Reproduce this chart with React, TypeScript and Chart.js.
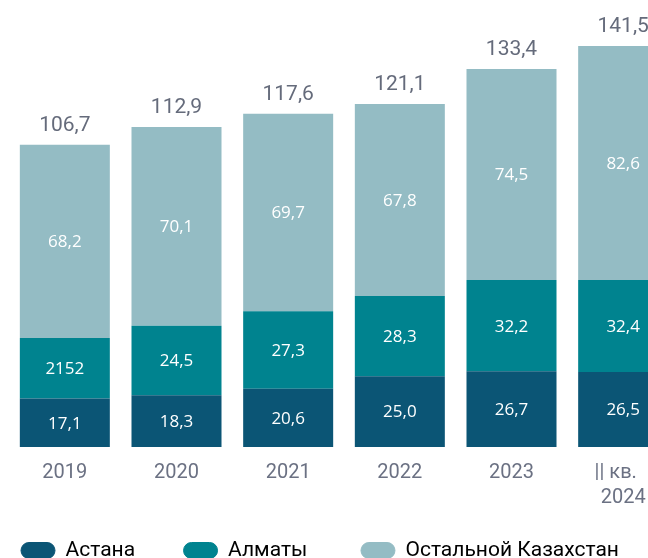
import React, { useEffect, useRef } from "react";
import { Chart, registerables } from "chart.js";

Chart.register(...registerables);

const categories: (string | string[])[] = ["2019", "2020", "2021", "2022", "2023", ["|| кв.   ", "2024"]];
const seriesNames = ["Астана", "Алматы", "Остальной Казахстан"];
const astana = [17.1, 18.3, 20.6, 25.0, 26.7, 26.5];
const almaty = [21.4, 24.5, 27.3, 28.3, 32.2, 32.4];
const rest = [68.2, 70.1, 69.7, 67.8, 74.5, 82.6];
const totals = [106.7, 112.9, 117.6, 121.1, 133.4, 141.5];
const almatyLabels = ["2152", "24,5", "27,3", "28,3", "32,2", "32,4"];
const colors = ["#0b5575", "#00838f", "#94bcc4"];
const legendPad = ["       ", "        ", ""];

const fmt = (v: number) => v.toFixed(1).replace(".", ",");
const segmentLabels = [astana.map(fmt), almatyLabels, rest.map(fmt)];

const labelPlugin = {
  id: "valueLabels",
  afterDatasetsDraw(chart: any) {
    const ctx = chart.ctx;
    ctx.save();
    ctx.textAlign = "center";
    ctx.textBaseline = "middle";
    ctx.fillStyle = "#ffffff";
    ctx.font = "17px 'Open Sans'";
    chart.data.datasets.forEach((_ds: any, di: number) => {
      const meta = chart.getDatasetMeta(di);
      meta.data.forEach((el: any, i: number) => {
        const { x, y, base } = el.getProps(["x", "y", "base"], true);
        ctx.fillText(segmentLabels[di][i], x, (y + base) / 2 + 1);
      });
    });
    const top = chart.getDatasetMeta(chart.data.datasets.length - 1);
    ctx.fillStyle = "#656b7b";
    ctx.font = "21px Roboto";
    top.data.forEach((el: any, i: number) => {
      const { x, y } = el.getProps(["x", "y"], true);
      ctx.fillText(fmt(totals[i]), x, y - 19);
    });
    ctx.restore();
  },
};

export default function App() {
  const ref = useRef<HTMLCanvasElement>(null);
  useEffect(() => {
    const chart = new Chart(ref.current as HTMLCanvasElement, {
      type: "bar",
      data: {
        labels: categories,
        datasets: [astana, almaty, rest].map((d, i) => ({
          label: seriesNames[i],
          data: d,
          backgroundColor: colors[i],
          borderWidth: 0,
          barPercentage: 0.806,
          categoryPercentage: 1,
        })),
      },
      options: {
        animation: false,
        responsive: false,
        devicePixelRatio: 1,
        layout: { padding: { left: 9, right: 1, top: 22, bottom: 0 } },
        scales: {
          x: {
            stacked: true,
            grid: { display: false, drawTicks: false },
            border: { display: false },
            ticks: {
              color: "#6b7183",
              font: { family: "Roboto", size: 20, lineHeight: 1.25 },
              padding: 13,
              maxRotation: 0,
              autoSkip: false,
            },
            afterFit: (s: any) => {
              s.height = 81;
            },
          },
          y: { stacked: true, display: false, min: 0, max: 150 },
        },
        plugins: {
          legend: {
            position: "bottom",
            align: "start",
            labels: {
              boxWidth: 34,
              boxHeight: 16,
              useBorderRadius: true,
              borderRadius: 8,
              padding: 12,
              color: "#555b66",
              font: { family: "Roboto", size: 21 },
              generateLabels: () =>
                seriesNames.map((n, i) => ({
                  text: n + legendPad[i],
                  fillStyle: colors[i],
                  strokeStyle: colors[i],
                  lineWidth: 1,
                  hidden: false,
                  datasetIndex: i,
                  borderRadius: 8,
                })),
            },
          },
          tooltip: { enabled: false },
        },
      } as any,
      plugins: [labelPlugin],
    });
    return () => chart.destroy();
  }, []);
  return (
    <div
      style={{
        position: "absolute",
        left: 0,
        top: 0,
        width: 648,
        height: 558,
        overflow: "hidden",
        background: "#fff",
      }}
    >
      <canvas ref={ref} width={680} height={571} style={{ display: "block" }} />
    </div>
  );
}
